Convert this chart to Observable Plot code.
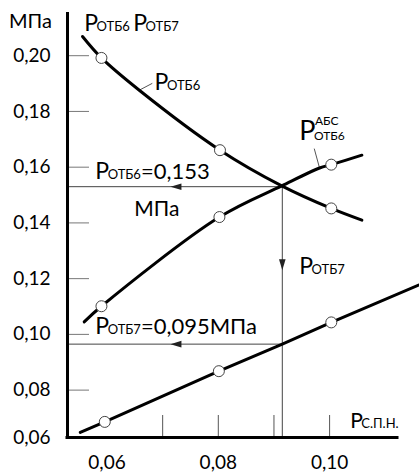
<!DOCTYPE html>
<html><head><meta charset="utf-8">
<script src="https://cdn.jsdelivr.net/npm/d3@7"></script>
<script src="https://cdn.jsdelivr.net/npm/@observablehq/plot@0.6"></script>
<style>body{margin:0;background:#fff} svg{display:block}</style>
</head><body><div id="chart"></div>
<script>
// ---- scales / ticks ----
const xDomain = [0.0529, 0.1122];
const yDomain = [0.0630, 0.2155];
const xTickLabels = [0.06, 0.08, 0.10];
const xTickMarks = [0.07, 0.08, 0.09, 0.10];
const yTickValues = [0.08, 0.10, 0.12, 0.14, 0.16, 0.18, 0.20];
const yOriginLabel = "0,06";

// ---- curves ----
const p6X = [0.0556, 0.0590, 0.0658, 0.0803, 0.0914, 0.1003, 0.1058];
const p6Y = [0.2069, 0.1992, 0.1876, 0.1661, 0.1533, 0.1452, 0.1410];
const p6absX = [0.0559, 0.0590, 0.0802, 0.0914, 0.0982, 0.1003, 0.1058];
const p6absY = [0.1045, 0.1101, 0.1421, 0.1533, 0.1597, 0.1609, 0.1643];
const p7X = [0.0552, 0.0596, 0.0801, 0.0915, 0.1003, 0.1160];
const p7Y = [0.0648, 0.0686, 0.0868, 0.0965, 0.1043, 0.1177];

// ---- measured points (circles) ----
const p6PtX = [0.0590, 0.0803, 0.1003];
const p6PtY = [0.1992, 0.1661, 0.1452];
const p6absPtX = [0.0590, 0.0802, 0.1003];
const p6absPtY = [0.1101, 0.1421, 0.1609];
const p7PtX = [0.0596, 0.0801, 0.1003];
const p7PtY = [0.0686, 0.0868, 0.1043];

// ---- results / guide lines ----
const xResult = 0.0915;
const p6Result = 0.153;
const p7Result = 0.0965;
const arrowTipX = 0.0714;
const arrowTipY = 0.1230;

// ---- labels ----
const labelX   = [0.05592, 0.06472, 0.06855, 0.05790, 0.09454, 0.05790, 0.10370, 0.09454];
const labelY   = [0.2087, 0.2087, 0.18757, 0.15591, 0.12184, 0.09997, 0.06627, 0.16964];
const labelSub = ["ОТБ6", "ОТБ7", "ОТБ6", "ОТБ6", "ОТБ7", "ОТБ7", "С.П.Н.", "ОТБ6"];
const labelRest = ["", "", "", "=0,153", "", "=0,095МПа", "", ""];
const labelSup = ["", "", "", "", "", "", "", "АБС"];
const labelPSize = [23, 23, 23, 23, 23, 23, 21, 27];
const unitLabel = "МПа";
const unitLabel2 = {text: "МПа", x: 0.06895, y: 0.14239};
const pointerLinks = [
  {x1: 0.06575, y1: 0.18757, x2: 0.06814, y2: 0.19008},
  {x1: 0.09819, y1: 0.15971, x2: 0.09724, y2: 0.16666}
];

const FONT = "Lato";
const ctx = document.createElement("canvas").getContext("2d");
function tw(s, size) { ctx.font = `${size}px ${FONT}`; return ctx.measureText(s).width; }

const toPts = (xs, ys) => xs.map((x, i) => ({x, y: ys[i]}));

const arrowLeft = {draw(c) { c.moveTo(0, 0); c.lineTo(11, -3.3); c.lineTo(11, 3.3); c.closePath(); }};
const arrowDown = {draw(c) { c.moveTo(0, 0); c.lineTo(-3.3, -11); c.lineTo(3.3, -11); c.closePath(); }};

const labelMarks = [];
labelX.forEach((x, i) => {
  const y = labelY[i];
  const ps = labelPSize[i];
  const subSize = labelSup[i] ? 12 : 13;
  const d = [{x, y}];
  const common = {x: "x", y: "y", textAnchor: "start", lineAnchor: "bottom", fontFamily: FONT, fill: "black"};
  labelMarks.push(Plot.text(d, {...common, text: () => "P", fontSize: ps}));
  const pw = tw("P", ps) - 1.5;
  labelMarks.push(Plot.text(d, {...common, text: () => labelSub[i], fontSize: subSize, dx: pw}));
  if (labelSup[i]) labelMarks.push(Plot.text(d, {...common, text: () => labelSup[i], fontSize: subSize, dx: pw + 1, dy: -15}));
  if (labelRest[i]) {
    const sw = tw(labelSub[i], subSize);
    labelMarks.push(Plot.text(d, {...common, text: () => labelRest[i], fontSize: 22, dx: pw + sw}));
  }
});

const fmt = d => d.toFixed(2).replace(".", ",");

const chart = Plot.plot({
  width: 419,
  height: 472,
  marginLeft: 67,
  marginRight: 22,
  marginTop: 12,
  marginBottom: 35,
  style: {fontFamily: FONT, background: "white", color: "black"},
  x: {domain: xDomain},
  y: {domain: yDomain},
  marks: [
    // inner ticks
    Plot.tickY(yTickValues, {y: d => d, insetRight: 330 - 22, stroke: "#777", strokeWidth: 1}),
    Plot.tickX(xTickMarks, {x: d => d, insetTop: 425 - 22, stroke: "#555", strokeWidth: 1}),
    // guide lines
    Plot.line([{x: xDomain[0], y: p6Result}, {x: xResult, y: p6Result}, {x: xResult, y: yDomain[0]}], {x: "x", y: "y", stroke: "#444", strokeWidth: 1}),
    Plot.ruleY([p7Result], {x1: xDomain[0], x2: xResult, stroke: "#444", strokeWidth: 1}),
    Plot.dot([{x: arrowTipX, y: p6Result}, {x: arrowTipX, y: p7Result}], {x: "x", y: "y", symbol: arrowLeft, fill: "#222", stroke: "none", r: 4}),
    Plot.dot([{x: xResult, y: arrowTipY}], {x: "x", y: "y", symbol: arrowDown, fill: "#222", stroke: "none", r: 4}),
    // pointer lines
    Plot.link(pointerLinks, {x1: "x1", y1: "y1", x2: "x2", y2: "y2", stroke: "#555", strokeWidth: 1}),
    // curves
    Plot.line(toPts(p6X, p6Y), {x: "x", y: "y", curve: "catmull-rom", stroke: "black", strokeWidth: 3}),
    Plot.line(toPts(p6absX, p6absY), {x: "x", y: "y", curve: "catmull-rom", stroke: "black", strokeWidth: 3}),
    Plot.line(toPts(p7X, p7Y), {x: "x", y: "y", curve: "linear", stroke: "black", strokeWidth: 3}),
    // points
    Plot.dot([...toPts(p6PtX, p6PtY), ...toPts(p6absPtX, p6absPtY), ...toPts(p7PtX, p7PtY)], {x: "x", y: "y", r: 5.5, fill: "white", stroke: "#444", strokeWidth: 1}),
    // axes
    Plot.ruleX([xDomain[0]], {stroke: "black", strokeWidth: 3}),
    Plot.ruleY([yDomain[0]], {stroke: "black", strokeWidth: 3, strokeLinecap: "square"}),
    Plot.axisY({ticks: yTickValues, tickSize: 0, tickPadding: 17, tickFormat: fmt, fontSize: 19, label: null}),
    Plot.axisX({ticks: xTickLabels, tickSize: 0, tickPadding: 18, tickFormat: fmt, fontSize: 19, label: null}),
    Plot.text([yOriginLabel], {x: xDomain[0], y: yDomain[0], text: d => d, dx: -17, textAnchor: "end", fontSize: 19, fontFamily: FONT}),
    Plot.text([unitLabel], {frameAnchor: "top-left", text: d => d, dx: -37, dy: 15, lineAnchor: "bottom", textAnchor: "middle", fontSize: 20, fontFamily: FONT}),
    Plot.text([unitLabel2], {x: "x", y: "y", text: "text", lineAnchor: "bottom", textAnchor: "middle", fontSize: 21, fontFamily: FONT}),
    ...labelMarks
  ]
});
document.getElementById("chart").appendChild(chart);
</script>
</body></html>
